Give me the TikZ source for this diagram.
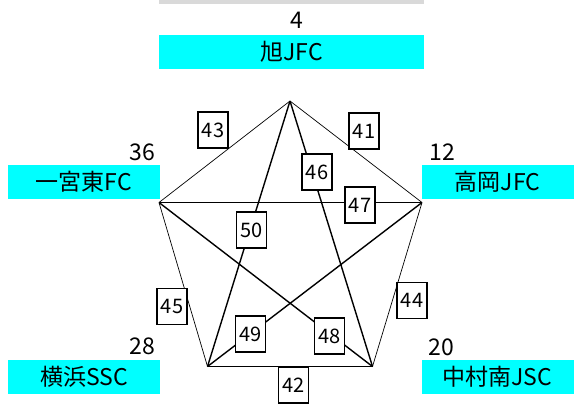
\documentclass[tikz,border=0pt]{standalone}
\usepackage{fontspec}
\setmainfont{Noto Sans CJK JP}
\definecolor{aqua}{RGB}{0,255,255}
\definecolor{bargray}{RGB}{217,217,217}
\begin{document}
\begin{tikzpicture}[x=1pt,y=-1pt,
  teambox/.style={fill=aqua, draw=none, minimum width=152pt, minimum height=34pt, inner sep=0pt, font=\fontsize{23}{26}\selectfont},
  score/.style={inner sep=0pt, font=\fontsize{23}{26}\selectfont},
  gamebox/.style={draw=black, line width=1.1pt, fill=white, minimum width=30pt, minimum height=36pt, inner sep=0pt, font=\fontsize{20}{23}\selectfont},
  sideedge/.style={draw=black, line width=0.7pt},
  diagedge/.style={draw=black, line width=1.4pt}]
\useasboundingbox (0,0) rectangle (577,405);
\fill[bargray] (159,0) rectangle (424,4);
% team boxes
\node[teambox, minimum width=265pt] (tA) at (291.5,52) {旭JFC};
\node[teambox] (tE) at (84,182) {一宮東FC};
\node[teambox] (tB) at (497.5,182) {高岡JFC};
\node[teambox] (tD) at (84,377) {横浜SSC};
\node[teambox] (tC) at (497.5,377) {中村南JSC};
% scores
\node[score] (sA) at (297,20.5) {4};
\node[score] (sE) at (142,152) {36};
\node[score] (sB) at (442,152) {12};
\node[score] (sD) at (142,346) {28};
\node[score] (sC) at (441,347) {20};
% vertices
\coordinate (A) at (290,101);
\coordinate (B) at (422,202.5);
\coordinate (C) at (372.5,366.5);
\coordinate (D) at (207.5,366.5);
\coordinate (E) at (159,202.5);
% edges
\draw[sideedge] (A) -- (B);
\draw[sideedge] (A) -- (E);
\draw[sideedge] (B) -- (C);
\draw[sideedge] (E) -- (D);
\draw[sideedge] (D) -- (C);
\draw[diagedge] (A) -- (C);
\draw[diagedge] (A) -- (D);
\draw[diagedge] (E) -- (B);
\draw[diagedge] (E) -- (C);
\draw[diagedge] (B) -- (D);
% game labels
\node[gamebox] (g41) at (364,131) {41};
\node[gamebox] (g43) at (213,130) {43};
\node[gamebox] (g46) at (317,172) {46};
\node[gamebox] (g47) at (360,205) {47};
\node[gamebox] (g50) at (251.5,230) {50};
\node[gamebox] (g45) at (172,306.5) {45};
\node[gamebox] (g44) at (412,300.5) {44};
\node[gamebox] (g49) at (250.5,334) {49};
\node[gamebox] (g48) at (329.5,336) {48};
\node[gamebox] (g42) at (293.5,385) {42};
\end{tikzpicture}
\end{document}
